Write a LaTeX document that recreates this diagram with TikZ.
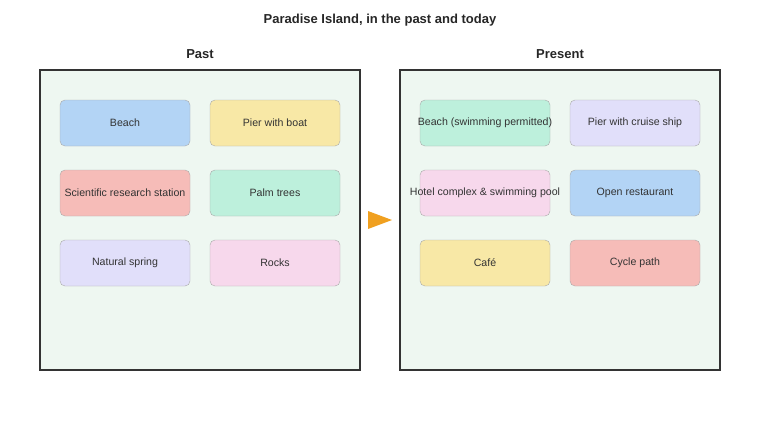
\documentclass[tikz,border=0pt]{standalone}
\usepackage{fontspec}
\setmainfont{Liberation Sans}
\usetikzlibrary{positioning}
\definecolor{panelfill}{HTML}{EEF7F1}
\definecolor{panelline}{HTML}{333333}
\definecolor{boxline}{HTML}{AAAAAA}
\definecolor{cblue}{HTML}{B3D4F5}
\definecolor{cyellow}{HTML}{F8E8A6}
\definecolor{cred}{HTML}{F6BCB8}
\definecolor{cgreen}{HTML}{BDF0DC}
\definecolor{clav}{HTML}{E1DFFA}
\definecolor{cpink}{HTML}{F7D8EC}
\definecolor{arrowc}{HTML}{F0A020}
\tikzset{
	panel/.style={draw=panelline, fill=panelfill, line width=1.2pt, minimum width=320pt, minimum height=300pt},
	item/.style={draw=boxline, rounded corners=5pt, inner xsep=-20pt, minimum width=130pt, minimum height=46pt, font=\fontsize{10.6}{12}\selectfont, text=black!80},
	heading/.style={font=\fontsize{13}{15}\selectfont\bfseries, text=black!85}
}
\begin{document}
\begin{tikzpicture}[x=1pt, y=-1pt]
		\useasboundingbox (0,0) rectangle (760,440);
		
		\node[heading] (title) at (380,20.5) {Paradise Island, in the past and today};
		
		\node[panel] (past) at (200,220) {};
		\node[panel] (present) at (560,220) {};
		\node[heading] at (200,54) {Past};
		\node[heading] at (560,54) {Present};
		
		\node[item, fill=cblue] (beach) at (125,123) {Beach};
		\node[item, fill=cyellow] (pier) at (275,123) {Pier with boat};
		\node[item, fill=cred] (station) at (125,193) {Scientific research station};
		\node[item, fill=cgreen] (palms) at (275,193) {Palm trees};
		\node[item, fill=clav] (spring) at (125,263) {Natural spring};
		\node[item, fill=cpink] (rocks) at (275,263) {Rocks};
		
		\node[item, fill=cgreen] (beachnow) at (485,123) {Beach (swimming permitted)};
		\node[item, fill=clav] (piernow) at (635,123) {Pier with cruise ship};
		\node[item, fill=cpink] (hotel) at (485,193) {Hotel complex \& swimming pool};
		\node[item, fill=cblue] (restaurant) at (635,193) {Open restaurant};
		\node[item, fill=cyellow] (cafe) at (485,263) {Café};
		\node[item, fill=cred] (cycle) at (635,263) {Cycle path};
		
		\fill[arrowc] (368,211) -- (392,220) -- (368,229) -- cycle;
	\end{tikzpicture}
\end{document}
